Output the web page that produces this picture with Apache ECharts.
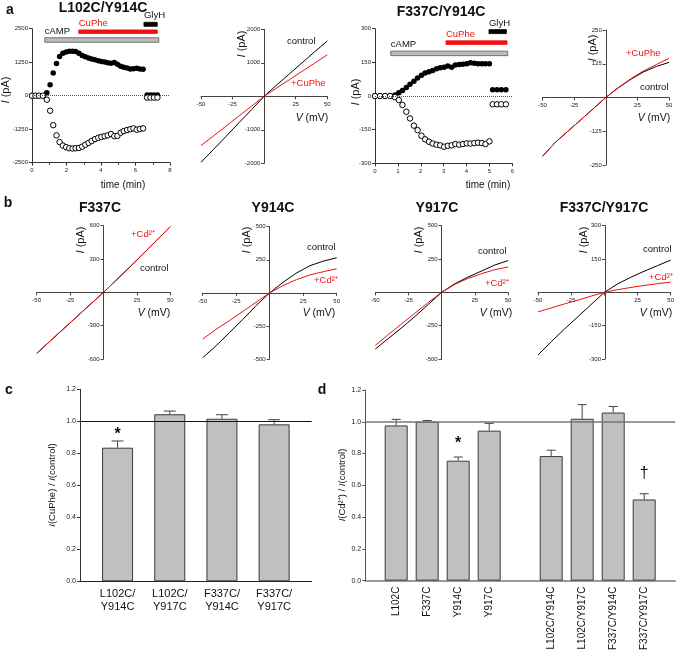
<!DOCTYPE html>
<html><head><meta charset="utf-8">
<script src="https://cdn.jsdelivr.net/npm/echarts@6/dist/echarts.min.js"></script>
<style>html,body{margin:0;padding:0;background:#fff}#c{width:677px;height:653px}</style>
</head><body><div id="c"></div>
<script>
// ---------------- DATA ----------------
// Panel a, time course L102C/Y914C (time in min, current in pA)
const a1Time = [0,0.2,0.4,0.63,0.86,1.05,1.23,1.42,1.60,1.79,1.98,2.16,2.35,2.53,2.72,2.91,3.09,3.28,3.46,3.65,3.84,4.02,4.21,4.39,4.58,4.77,4.95,5.14,5.32,5.51,5.70,5.88,6.07,6.25,6.44];
const a1Pos = [0,0,0,0,110,410,850,1200,1460,1580,1630,1660,1660,1650,1580,1500,1450,1410,1370,1340,1300,1280,1260,1230,1210,1240,1170,1100,1060,1030,1000,1010,1020,1000,990];
const a1Neg = [0,0,0,0,-150,-560,-1100,-1480,-1730,-1860,-1920,-1960,-1970,-1960,-1950,-1900,-1830,-1760,-1690,-1620,-1570,-1540,-1510,-1480,-1430,-1510,-1500,-1380,-1320,-1280,-1250,-1220,-1270,-1240,-1220];
const a1GlyTime = [6.67,6.87,7.07,7.27];
const a1GlyPos = [30,30,30,30];
const a1GlyNeg = [-70,-70,-70,-70];
const a1AnnName = ['cAMP','CuPhe','GlyH'];
const a1AnnStart = [0.74,2.71,6.49];
const a1AnnEnd = [7.35,7.26,7.26];
const a1AnnLevel = [2078,2388,2664];

// Panel a, time course F337C/Y914C
const a3Time = [0,0.22,0.44,0.66,0.87,1.04,1.20,1.37,1.53,1.70,1.86,2.03,2.19,2.36,2.52,2.69,2.85,3.02,3.18,3.35,3.51,3.68,3.84,4.01,4.17,4.34,4.50,4.67,4.83,5.00];
const a3Pos = [0,0,0,0,5,15,25,38,52,66,80,92,102,108,114,122,126,128,134,128,138,140,142,144,148,146,144,144,144,144];
const a3Neg = [0,0,0,0,-5,-18,-40,-70,-100,-132,-152,-177,-193,-204,-212,-217,-220,-226,-222,-220,-214,-217,-214,-211,-212,-210,-208,-210,-214,-202];
const a3GlyTime = [5.14,5.33,5.52,5.72];
const a3GlyPos = [28,28,28,28];
const a3GlyNeg = [-37,-37,-37,-37];
const a3AnnName = ['cAMP','CuPhe','GlyH'];
const a3AnnStart = [0.69,3.1,4.98];
const a3AnnEnd = [5.8,5.77,5.74];
const a3AnnLevel = [190,238,287];

// I-V relations (V in mV, I in pA)
const ivV = [-50,-40,-30,-20,-10,0,10,20,30,40,50];
const a2Control = [-1970,-1580,-1190,-790,-400,0,340,670,1000,1330,1650];
const a2CuPhe   = [-1470,-1180,-885,-590,-295,0,250,495,745,990,1240];
const a4Control = [-218,-167,-125,-84,-42,0,36,68,95,115,130];
const a4CuPhe   = [-218,-167,-125,-84,-42,0,37,70,99,122,145];
const b1Control = [-550,-440,-330,-220,-110,0,115,230,350,470,590];
const b1Cd      = [-548,-438,-328,-219,-109,0,117,233,352,472,592];
const b2Control = [-490,-400,-300,-200,-95,0,80,150,205,240,265];
const b2Cd      = [-350,-275,-210,-140,-70,0,55,100,135,160,182];
const b3Control = [-425,-345,-265,-180,-90,0,65,115,160,205,238];
const b3Cd      = [-398,-315,-235,-155,-75,0,60,105,140,170,190];
const b4Control = [-282,-222,-165,-110,-55,0,38,68,95,120,145];
const b4Cd      = [-88,-70,-52,-35,-17,0,12,22,31,39,46];

// Panel c
const cCats = ['L102C/\nY914C','L102C/\nY917C','F337C/\nY914C','F337C/\nY917C'];
const cPos  = [1,2,3,4];
const cVals = [0.835,1.044,1.016,0.981];
const cErr  = [0.042,0.02,0.025,0.029];
const cMarkText = ['*'];
const cMarkPos = [1];
const cMarkY = [0.92];

// Panel d
const dCats = ['L102C','F337C','Y914C','Y917C','L102C/Y914C','L102C/Y917C','F337C/Y914C','F337C/Y917C'];
const dPos  = [1,2,3,4,6,7,8,9];
const dVals = [0.977,1.0,0.755,0.944,0.784,1.019,1.058,0.511];
const dErr  = [0.038,0.008,0.023,0.046,0.037,0.089,0.038,0.036];
const dMarkText = ['*','\u2020'];
const dMarkPos = [3,9];
const dMarkY = [0.86,0.675];

// ---------------- CHART ----------------
const FONT = '"Liberation Sans", Arial, Helvetica, sans-serif';
const RED = '#f01010';
const AX = '#333';
const chart = echarts.init(document.getElementById('c'), null, {renderer:'canvas'});

const grids = [
  {left:32, top:28.7, width:138, height:134},     // 0 a1
  {left:201, top:29.3, width:126.3, height:134},  // 1 a2
  {left:375, top:28.7, width:137.3, height:134.6},// 2 a3
  {left:542.5, top:30, width:126.5, height:135},  // 3 a4
  {left:36.7, top:225.7, width:133.6, height:133.3}, // 4 b1
  {left:202.7, top:226.7, width:134, height:132.3},  // 5 b2
  {left:375.3, top:225.7, width:132.7, height:133.3},// 6 b3
  {left:538, top:225.7, width:134, height:133.3},    // 7 b4
  {left:80, top:389.3, width:231.7, height:192},     // 8 c
  {left:365.2, top:390, width:310, height:192}       // 9 d
];

function tcX(gi, max, interval, minor){
  return {type:'value', gridIndex:gi, min:0, max, interval,
    axisLine:{onZero:false, lineStyle:{color:AX, width:1}},
    axisTick:{length:3, lineStyle:{color:AX}},
    minorTick:{show:minor, splitNumber:2, length:2, lineStyle:{color:AX}},
    axisLabel:{fontSize:6, margin:5, color:'#222', fontFamily:FONT, formatter:v=>String(v)},
    splitLine:{show:false}};
}
function tcY(gi, lim, interval){
  return {type:'value', gridIndex:gi, min:-lim, max:lim, interval,
    axisLine:{show:true, onZero:false, lineStyle:{color:AX, width:1}},
    axisTick:{show:true, length:3, lineStyle:{color:AX}},
    axisLabel:{fontSize:6, margin:4, color:'#222', fontFamily:FONT, formatter:v=>String(v)},
    splitLine:{show:false}};
}
// I-V axes cross at the origin, which sits at the centre of each symmetric grid
function ivX(gi){
  return {type:'value', gridIndex:gi, min:-50, max:50, interval:25, position:'bottom',
    offset: -grids[gi].height/2,
    axisLine:{onZero:false, lineStyle:{color:'#444', width:1}},
    axisTick:{length:3, lineStyle:{color:'#444'}},
    axisLabel:{fontSize:6, margin:5, color:'#222', fontFamily:FONT, formatter:v=> v===0?'':String(v)},
    splitLine:{show:false}};
}
function ivY(gi, lim, interval){
  return {type:'value', gridIndex:gi, min:-lim, max:lim, interval, position:'left',
    offset: -grids[gi].width/2,
    axisLine:{show:true, onZero:false, lineStyle:{color:'#444', width:1}},
    axisTick:{show:true, length:3, lineStyle:{color:'#444'}},
    axisLabel:{fontSize:6, margin:4, color:'#222', fontFamily:FONT, formatter:v=> v===0?'':String(v)},
    splitLine:{show:false}};
}

const xAxes = [
  tcX(0, 8, 2, true), ivX(1), tcX(2, 6, 1, false), ivX(3), ivX(4), ivX(5), ivX(6), ivX(7),
  {type:'value', gridIndex:8, min:0.28, max:4.72,
    axisLine:{onZero:false, lineStyle:{color:'#222', width:1}}, axisTick:{show:false},
    axisLabel:{customValues:cPos, fontSize:11, lineHeight:13, margin:6, color:'#111', fontFamily:FONT,
      formatter:v=>{const i=cPos.indexOf(Math.round(v)); return i>=0?cCats[i]:'';}},
    splitLine:{show:false}},
  {type:'value', gridIndex:9, min:0, max:10,
    axisLine:{onZero:false, lineStyle:{color:'#777', width:1.5}}, axisTick:{show:false},
    axisLabel:{customValues:dPos, rotate:90, fontSize:10, margin:6, color:'#111', fontFamily:FONT,
      formatter:v=>{const i=dPos.indexOf(Math.round(v)); return i>=0?dCats[i]:'';}},
    splitLine:{show:false}}
];
function barY(gi, col){
  return {type:'value', gridIndex:gi, min:0, max:1.2, interval:0.2,
    axisLine:{show:true, lineStyle:{color:col, width:1}},
    axisTick:{show:true, length:3, lineStyle:{color:col}},
    axisLabel:{fontSize:7, margin:4, color:'#222', fontFamily:FONT, formatter:v=>v.toFixed(1)},
    splitLine:{show:false}};
}
const yAxes = [
  tcY(0, 2500, 1250), ivY(1, 2000, 1000), tcY(2, 300, 150), ivY(3, 250, 125),
  ivY(4, 600, 300), ivY(5, 500, 250), ivY(6, 500, 250), ivY(7, 300, 150),
  barY(8, '#333'), barY(9, '#555')
];

const zip = (xs, ys) => xs.map((x,i)=>[x, ys[i]]);

function filledSeries(gi, data){
  return {type:'scatter', xAxisIndex:gi, yAxisIndex:gi, data, symbol:'circle', symbolSize:5.5,
    itemStyle:{color:'#000', opacity:1}, silent:true, z:3,
    markLine:{silent:true, symbol:'none', label:{show:false}, animation:false,
      lineStyle:{type:'dotted', color:'#555', width:1}, data:[{yAxis:0}]}};
}
function openSeries(gi, data){
  return {type:'scatter', xAxisIndex:gi, yAxisIndex:gi, data, symbol:'circle', symbolSize:5.5,
    itemStyle:{color:'#fff', borderColor:'#000', borderWidth:1, opacity:1}, silent:true, z:4};
}
const annStyle = {
  cAMP:{fill:'#bdbdbd', stroke:'#555', h:4.5, text:'#111'},
  CuPhe:{fill:RED, stroke:RED, h:3.6, text:RED},
  GlyH:{fill:'#000', stroke:'#000', h:4, text:'#111'}
};
function annSeries(gi, names, starts, ends, levels){
  return {type:'custom', xAxisIndex:gi, yAxisIndex:gi, clip:false, silent:true, z:5,
    data: names.map((n,i)=>[starts[i], ends[i], levels[i]]),
    renderItem:(params, api)=>{
      const st = annStyle[names[params.dataIndex]];
      const s = api.coord([api.value(0), api.value(2)]);
      const e = api.coord([api.value(1), api.value(2)]);
      return {type:'group', children:[
        {type:'rect', shape:{x:s[0], y:s[1]-st.h/2, width:e[0]-s[0], height:st.h},
          style:{fill:st.fill, stroke:st.stroke, lineWidth:0.8}},
        {type:'text', x:s[0], y:s[1]-st.h/2-1.5,
          style:{text:names[params.dataIndex], fill:st.text, fontSize:9.5, fontFamily:FONT,
            align:'left', verticalAlign:'bottom', textAlign:'left', textVerticalAlign:'bottom'}}
      ]};
    }};
}
function ivLine(gi, ys, color, z){
  return {type:'line', xAxisIndex:gi, yAxisIndex:gi, data:zip(ivV, ys), showSymbol:false, symbol:'none',
    lineStyle:{color, width:1}, z, silent:true};
}
function errSeries(gi, pos, vals, errs, cap, col){
  return {type:'custom', xAxisIndex:gi, yAxisIndex:gi, silent:true, z:4, clip:false,
    data: pos.map((p,i)=>[p, vals[i], errs[i]]),
    renderItem:(params, api)=>{
      const x=api.value(0), v=api.value(1), e=api.value(2);
      const p0=api.coord([x,v]), p1=api.coord([x,v+e]);
      return {type:'group', children:[
        {type:'line', shape:{x1:p0[0], y1:p0[1], x2:p1[0], y2:p1[1]}, style:{stroke:col, lineWidth:1}},
        {type:'line', shape:{x1:p1[0]-cap/2, y1:p1[1], x2:p1[0]+cap/2, y2:p1[1]}, style:{stroke:col, lineWidth:1}}
      ]};
    }};
}
function markSeries(gi, pos, ys, texts){
  return {type:'custom', xAxisIndex:gi, yAxisIndex:gi, silent:true, z:6, clip:false,
    data: pos.map((p,i)=>[p, ys[i]]),
    renderItem:(params, api)=>{
      const p = api.coord([api.value(0), api.value(1)]);
      const t = texts[params.dataIndex];
      const star = t==='*';
      return {type:'text', x:p[0], y:p[1],
        style:{text:t, fill:'#111', fontSize: star?16:16, fontWeight: star?'bold':'normal', fontFamily:FONT,
          align:'center', verticalAlign:'middle', textAlign:'center', textVerticalAlign:'middle'}};
    }};
}
function barSeries(gi, pos, vals, w){
  return {type:'bar', xAxisIndex:gi, yAxisIndex:gi, data:zip(pos, vals), barWidth:w, silent:true, z:2,
    itemStyle:{color:'#c0c0c0', borderColor:'#3a3a3a', borderWidth:1},
    markLine:{silent:true, symbol:'none', label:{show:false}, animation:false,
      lineStyle:{type:'solid', color: gi===8?'#111':'#777', width: gi===8?1:1.5}, data:[{yAxis:1.0}]}};
}

const series = [
  filledSeries(0, zip(a1Time, a1Pos).concat(zip(a1GlyTime, a1GlyPos))),
  openSeries(0, zip(a1Time, a1Neg).concat(zip(a1GlyTime, a1GlyNeg))),
  annSeries(0, a1AnnName, a1AnnStart, a1AnnEnd, a1AnnLevel),
  filledSeries(2, zip(a3Time, a3Pos).concat(zip(a3GlyTime, a3GlyPos))),
  openSeries(2, zip(a3Time, a3Neg).concat(zip(a3GlyTime, a3GlyNeg))),
  annSeries(2, a3AnnName, a3AnnStart, a3AnnEnd, a3AnnLevel),
  ivLine(1, a2Control, '#000', 2), ivLine(1, a2CuPhe, RED, 3),
  ivLine(3, a4Control, '#000', 2), ivLine(3, a4CuPhe, RED, 3),
  ivLine(4, b1Control, '#000', 2), ivLine(4, b1Cd, RED, 3),
  ivLine(5, b2Control, '#000', 2), ivLine(5, b2Cd, RED, 3),
  ivLine(6, b3Control, '#000', 2), ivLine(6, b3Cd, RED, 3),
  ivLine(7, b4Control, '#000', 2), ivLine(7, b4Cd, RED, 3),
  barSeries(8, cPos, cVals, 31),
  errSeries(8, cPos, cVals, cErr, 12, '#444'),
  markSeries(8, cMarkPos, cMarkY, cMarkText),
  barSeries(9, dPos, dVals, 23),
  errSeries(9, dPos, dVals, dErr, 9, '#444'),
  markSeries(9, dMarkPos, dMarkY, dMarkText)
];

// ---------- text annotations ----------
function T(x, y, text, o){
  o = o || {};
  const style = {text, fill:o.fill||'#111', fontSize:o.size||10, fontFamily:FONT, fontWeight:o.weight||'normal',
    align:o.align||'center', verticalAlign:'middle', textAlign:o.align||'center', textVerticalAlign:'middle'};
  if (o.rich) style.rich = o.rich;
  const el = {type:'text', x, y, style, silent:true, z:10};
  if (o.rot) el.rotation = o.rot;
  return el;
}
const italicRich = (sz)=>({i:{fontStyle:'italic', fontSize:sz, fontFamily:FONT, fill:'#111'}, n:{fontSize:sz, fontFamily:FONT, fill:'#111'}});
const ipa = (x,y)=>T(x, y, '{i|I}{n| (pA)}', {size:11, rot:Math.PI/2, rich:italicRich(11)});
const vmv = (x,y)=>T(x, y, '{i|V}{n| (mV)}', {size:10.5, rich:italicRich(10.5)});
const H = (x,y,t)=>T(x, y, t, {size:14, weight:'bold'});
const lbl = (x,y,t,fill)=>T(x, y, t, {size:9.5, align:'left', fill:fill||'#111'});

const graphic = [
  T(10, 10, 'a', {size:14, weight:'bold'}),
  T(8, 203, 'b', {size:14, weight:'bold'}),
  T(9, 390, 'c', {size:14, weight:'bold'}),
  T(322, 390, 'd', {size:14, weight:'bold'}),
  H(103, 8, 'L102C/Y914C'), H(441, 12, 'F337C/Y914C'),
  H(100, 208, 'F337C'), H(273, 208, 'Y914C'), H(437, 208, 'Y917C'), H(604, 208, 'F337C/Y917C'),
  ipa(6, 90), ipa(356, 92), ipa(242, 44), ipa(593, 48),
  ipa(81, 240), ipa(247, 240), ipa(419, 240), ipa(584, 240),
  T(123, 185, 'time (min)', {size:10}), T(488, 185, 'time (min)', {size:10}),
  vmv(312, 118), vmv(654, 118), vmv(154, 313), vmv(319, 313), vmv(496, 313), vmv(656, 313),
  lbl(287, 41, 'control'), lbl(291, 83, '+CuPhe', RED),
  lbl(626, 53, '+CuPhe', RED), lbl(640, 87, 'control'),
  lbl(131, 234, '+Cd\u00b2\u207a', RED), lbl(140, 268, 'control'),
  lbl(307, 247, 'control'), lbl(314, 280, '+Cd\u00b2\u207a', RED),
  lbl(478, 251, 'control'), lbl(485, 283, '+Cd\u00b2\u207a', RED),
  lbl(643, 249, 'control'), lbl(649, 277, '+Cd\u00b2\u207a', RED),
  T(52, 485, '{i|I}{n|(CuPhe) / }{i|I}{n|(control)}', {size:9.5, rot:Math.PI/2, rich:italicRich(9.5)}),
  T(342, 485, '{i|I}{n|(Cd\u00b2\u207a) / }{i|I}{n|(control)}', {size:9.5, rot:Math.PI/2, rich:italicRich(9.5)})
];

chart.setOption({
  animation:false,
  backgroundColor:'#fff',
  textStyle:{fontFamily:FONT},
  grid:grids.map(g=>Object.assign({containLabel:false}, g)),
  xAxis:xAxes, yAxis:yAxes, series, graphic
});
</script></body></html>
